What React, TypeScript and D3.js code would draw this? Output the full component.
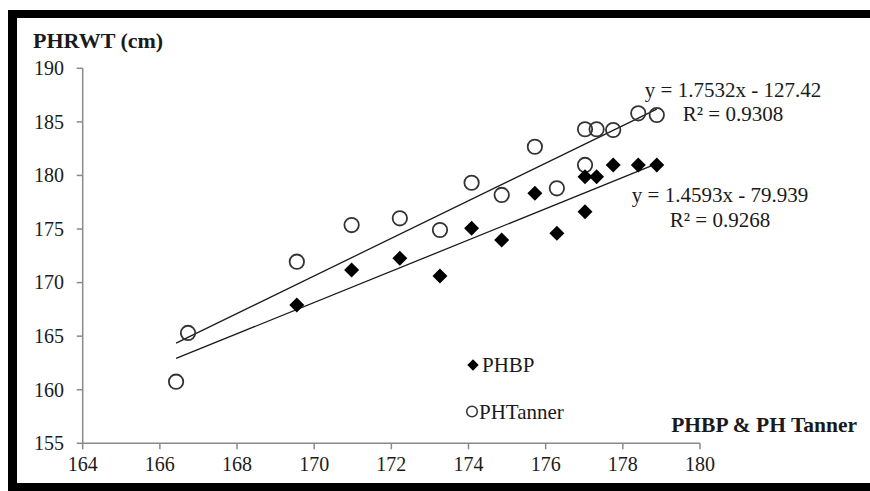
import { useEffect } from "react";
import * as d3 from "d3";

// PHTanner (open circles)
const tannerX = [166.42, 166.73, 169.55, 170.97, 172.22, 173.26, 174.08, 174.86, 175.72, 176.29, 177.02, 177.02, 177.32, 177.75, 178.4, 178.88];
const tannerY = [160.75, 165.3, 171.95, 175.37, 176.0, 174.91, 179.32, 178.18, 182.68, 178.8, 184.31, 180.98, 184.31, 184.24, 185.8, 185.64];

// PHBP (filled diamonds)
const phbpX = [169.55, 170.97, 172.22, 173.26, 174.08, 174.86, 175.72, 176.29, 177.02, 177.02, 177.32, 177.75, 178.4, 178.88];
const phbpY = [167.91, 171.18, 172.27, 170.62, 175.07, 173.98, 178.33, 174.6, 179.88, 176.62, 179.88, 180.98, 180.98, 180.98];

// linear trendlines: [PHTanner, PHBP]
const trendSlope = [1.7532, 1.4593];
const trendIntercept = [-127.42, -79.939];
const trendRange = [166.42, 178.88];
const trendEquation = ["y = 1.7532x - 127.42", "y = 1.4593x - 79.939"];
const trendR2 = ["0.9308", "0.9268"];

const xTicks = [164, 166, 168, 170, 172, 174, 176, 178, 180];
const yTicks = [155, 160, 165, 170, 175, 180, 185, 190];

const W = 870;
const H = 491;
const FONT = "'Liberation Serif', 'Times New Roman', serif";
const AXIS = "#8a8a8a";
const INK = "#1a1a1a";

export default function App() {
  useEffect(() => {
    document.body.style.margin = "0";
  }, []);

  const x = d3.scaleLinear().domain([164, 180]).range([82.7, 700]);
  const y = d3.scaleLinear().domain([155, 190]).range([443.3, 68.3]);

  const diamond = d3.symbol(d3.symbolSquare, 112)() ?? "";
  const smallDiamond = d3.symbol(d3.symbolSquare, 64)() ?? "";

  // annotation anchors for the two equations
  const eqPos = [
    { cx: 733, y1: 97, y2: 121 },
    { cx: 720, y1: 202, y2: 227 },
  ];

  return (
    <svg width={W} height={H} style={{ display: "block", background: "#fff" }} fontFamily={FONT}>
      {/* thick black frame */}
      <rect x={8} y={10} width={W} height={H} fill="#000" />
      <rect x={17} y={18} width={W} height={465} fill="#fff" />

      {/* y axis */}
      <line x1={x(164)} x2={x(164)} y1={y(190)} y2={y(155)} stroke={AXIS} strokeWidth={1.5} />
      {yTicks.map((t) => (
        <g key={`y${t}`}>
          <line x1={x(164) - 6} x2={x(164)} y1={y(t)} y2={y(t)} stroke={AXIS} strokeWidth={1.5} />
          <text x={64} y={y(t)} dy="0.34em" textAnchor="end" fontSize={20} fill={INK}>
            {t}
          </text>
        </g>
      ))}

      {/* x axis */}
      <line x1={x(164)} x2={x(180)} y1={y(155)} y2={y(155)} stroke={AXIS} strokeWidth={1.5} />
      {xTicks.map((t) => (
        <g key={`x${t}`}>
          <line x1={x(t)} x2={x(t)} y1={y(155)} y2={y(155) + 6} stroke={AXIS} strokeWidth={1.5} />
          <text x={x(t)} y={471} textAnchor="middle" fontSize={20} fill={INK}>
            {t}
          </text>
        </g>
      ))}

      {/* axis titles */}
      <text x={33} y={48} fontSize={22} fontWeight="bold" fill={INK}>
        PHRWT (cm)
      </text>
      <text x={857} y={432} textAnchor="end" fontSize={21.5} fontWeight="bold" fill={INK}>
        PHBP &amp; PH Tanner
      </text>

      {/* trendlines */}
      {trendSlope.map((m, i) => {
        const path = d3
          .line<number>()
          .x((d) => x(d))
          .y((d) => y(m * d + trendIntercept[i]))(trendRange);
        return <path key={`t${i}`} d={path ?? ""} fill="none" stroke={INK} strokeWidth={1.3} />;
      })}

      {/* PHTanner */}
      {tannerX.map((v, i) => (
        <circle key={`c${i}`} cx={x(v)} cy={y(tannerY[i])} r={7.2} fill="none" stroke="#333" strokeWidth={1.8} />
      ))}

      {/* PHBP */}
      {phbpX.map((v, i) => (
        <path key={`d${i}`} d={diamond} transform={`translate(${x(v)},${y(phbpY[i])}) rotate(45)`} fill="#000" />
      ))}

      {/* equations */}
      {trendEquation.map((eq, i) => (
        <g key={`e${i}`} fontSize={21} fill={INK} textAnchor="middle">
          <text x={eqPos[i].cx} y={eqPos[i].y1}>
            {eq}
          </text>
          <text x={eqPos[i].cx} y={eqPos[i].y2}>
            R² = {trendR2[i]}
          </text>
        </g>
      ))}

      {/* legend */}
      <path d={smallDiamond} transform="translate(473,365) rotate(45)" fill="#000" />
      <text x={482} y={372} fontSize={21} fill={INK}>
        PHBP
      </text>
      <circle cx={472} cy={411.5} r={5.3} fill="none" stroke="#333" strokeWidth={1.5} />
      <text x={479} y={418.5} fontSize={21} fill={INK}>
        PHTanner
      </text>
    </svg>
  );
}
